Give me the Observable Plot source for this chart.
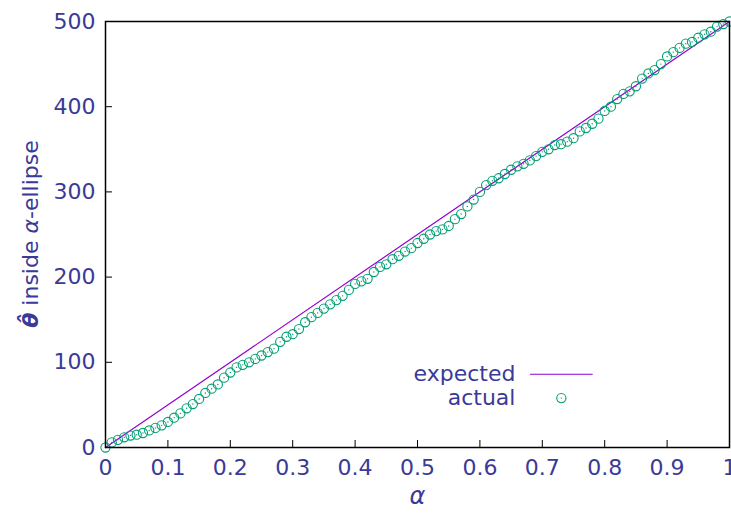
<!DOCTYPE html>
<html>
<head>
<meta charset="utf-8">
<script src="https://cdn.jsdelivr.net/npm/d3@7"></script>
<script src="https://cdn.jsdelivr.net/npm/@observablehq/plot@0.6"></script>
<style>
  html, body { margin: 0; padding: 0; background: white; }
</style>
</head>
<body>
<div id="chart"></div>
<script>
// ---- data ----
const alpha = [0.00,0.01,0.02,0.03,0.04,0.05,0.06,0.07,0.08,0.09,
  0.10,0.11,0.12,0.13,0.14,0.15,0.16,0.17,0.18,0.19,
  0.20,0.21,0.22,0.23,0.24,0.25,0.26,0.27,0.28,0.29,
  0.30,0.31,0.32,0.33,0.34,0.35,0.36,0.37,0.38,0.39,
  0.40,0.41,0.42,0.43,0.44,0.45,0.46,0.47,0.48,0.49,
  0.50,0.51,0.52,0.53,0.54,0.55,0.56,0.57,0.58,0.59,
  0.60,0.61,0.62,0.63,0.64,0.65,0.66,0.67,0.68,0.69,
  0.70,0.71,0.72,0.73,0.74,0.75,0.76,0.77,0.78,0.79,
  0.80,0.81,0.82,0.83,0.84,0.85,0.86,0.87,0.88,0.89,
  0.90,0.91,0.92,0.93,0.94,0.95,0.96,0.97,0.98,0.99,1.00];
const actual = [0,6,9,12,14,15,17,20,23,26,
  30,35,40,46,51,57,64,69,74,82,
  88,94,97,100,104,108,112,116,124,130,
  133,139,147,153,158,163,168,173,178,185,
  192,195,198,206,212,215,221,225,230,234,
  240,245,250,254,256,260,268,274,283,291,
  300,308,313,316,321,326,330,333,337,342,
  347,350,355,356,359,363,371,375,380,386,
  395,400,409,415,418,424,433,439,443,450,
  459,464,469,474,476,481,485,488,494,497,500];
const expectedAlpha = [0, 1];
const expectedCount = [0, 500];
const seriesNames = ["expected", "actual"];
const xTicks = [0,0.1,0.2,0.3,0.4,0.5,0.6,0.7,0.8,0.9,1];
const xTickLabels = ["0","0.1","0.2","0.3","0.4","0.5","0.6","0.7","0.8","0.9","1"];
const yTicks = [0,100,200,300,400,500];

// ---- layout / style ----
const textColor = "#3a3a98";
const lineColor = "#9400d3";
const pointColor = "#009e73";
const font = "DejaVu Sans";
// legend placement (in data units of the axes)
const keyTextX = 0.657, keyX1 = 0.681, keyX2 = 0.78, keyY = [86, 58];

const actualData = alpha.map((a, i) => ({a, v: actual[i]}));
const expectedData = expectedAlpha.map((a, i) => ({a, v: expectedCount[i]}));

const chart = Plot.plot({
  width: 731,
  height: 516,
  marginLeft: 105,
  marginRight: 2,
  marginTop: 21,
  marginBottom: 69,
  x: {domain: [0, 1]},
  y: {domain: [0, 500]},
  style: {fontFamily: font, fontSize: "22px", color: textColor, background: "white", overflow: "visible"},
  marks: [
    Plot.axisX(xTicks, {tickSize: 0, tickPadding: 12, fill: textColor, fontSize: 22,
      tickFormat: (d, i) => xTickLabels[xTicks.indexOf(d)], label: null}),
    Plot.axisY(yTicks, {tickSize: 0, tickPadding: 10, fill: textColor, fontSize: 22, label: null}),
    Plot.ruleX(xTicks.slice(1, -1), {stroke: "black", strokeWidth: 1, insetTop: 419}),
    Plot.ruleY(yTicks.slice(1, -1), {stroke: "black", strokeWidth: 1, insetRight: 617}),
    Plot.line(expectedData, {x: "a", y: "v", stroke: lineColor, strokeWidth: 1.2}),
    Plot.dot(actualData, {x: "a", y: "v", r: 4.6, stroke: pointColor, strokeWidth: 1.1, fill: "none"}),
    Plot.dot(actualData, {x: "a", y: "v", r: 0.7, fill: pointColor, stroke: "none"}),
    // legend
    Plot.text([seriesNames[0]], {x: keyTextX, y: keyY[0], text: d => d, textAnchor: "end",
      fill: textColor, fontSize: 22, fontFamily: font}),
    Plot.text([seriesNames[1]], {x: keyTextX, y: keyY[1], text: d => d, textAnchor: "end",
      fill: textColor, fontSize: 22, fontFamily: font}),
    Plot.line([{a: keyX1, v: keyY[0]}, {a: keyX2, v: keyY[0]}], {x: "a", y: "v", stroke: lineColor, strokeWidth: 1.2}),
    Plot.dot([{a: (keyX1 + keyX2) / 2, v: keyY[1]}], {x: "a", y: "v", r: 4.6, stroke: pointColor, strokeWidth: 1.1, fill: "none"}),
    Plot.dot([{a: (keyX1 + keyX2) / 2, v: keyY[1]}], {x: "a", y: "v", r: 0.7, fill: pointColor, stroke: "none"}),
    // x axis label
    Plot.text(["α"], {frameAnchor: "bottom", dy: 56, text: d => d, fontStyle: "italic",
      fill: textColor, fontSize: 24, fontFamily: font}),
    Plot.frame({stroke: "black", strokeWidth: 1.5})
  ]
});

document.getElementById("chart").appendChild(chart);

// y axis label with mixed styles
const svg = d3.select(chart);
const yl = svg.append("text")
  .attr("transform", "translate(38,234) rotate(-90)")
  .attr("text-anchor", "middle")
  .attr("fill", textColor)
  .attr("font-family", font)
  .attr("font-size", 22);
yl.append("tspan").attr("font-weight", "bold").attr("font-style", "italic").text("θ\u0302");
yl.append("tspan").text(" inside ");
yl.append("tspan").attr("font-style", "italic").text("α");
yl.append("tspan").text("-ellipse");
</script>
</body>
</html>
